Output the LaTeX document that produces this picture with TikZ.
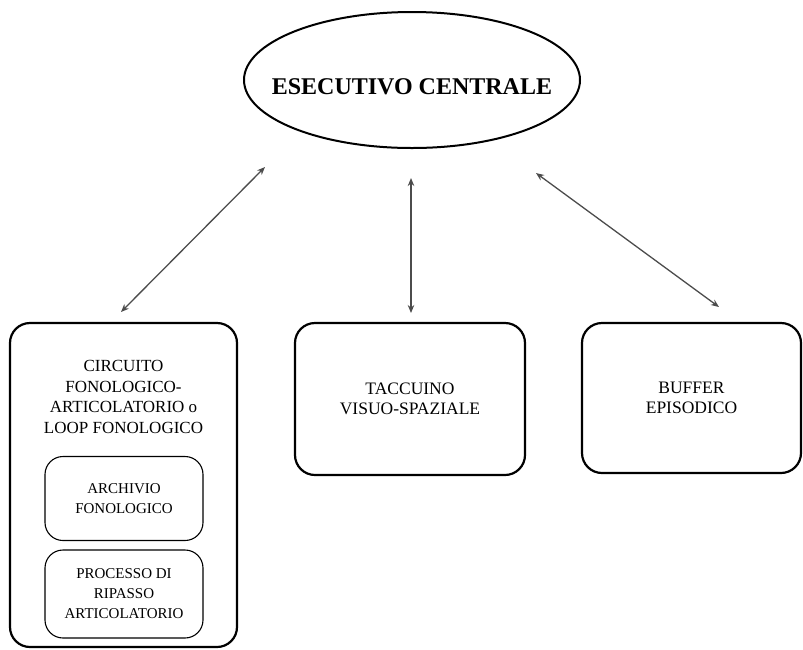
\documentclass[tikz,border=0pt]{standalone}
\usepackage{fontspec}
\setmainfont{Liberation Serif}
\usetikzlibrary{shapes.geometric,arrows.meta,positioning}

\begin{document}
\begin{tikzpicture}[x=1pt,y=-1pt,
          comp/.style={draw=black,line width=2.2pt,rounded corners=20pt,
                       align=center,font=\fontsize{17.5}{20.5}\selectfont},
          sub/.style={draw=black,line width=1.1pt,rounded corners=18pt,
                      minimum width=158pt,align=center,
                      font=\fontsize{15}{20}\selectfont},
          link/.style={{Stealth[length=8pt,width=6.5pt]}-{Stealth[length=8pt,width=6.5pt]},
                       line width=1.3pt,black!70}]
        \useasboundingbox (0,0) rectangle (803,649);
        \node[ellipse,draw,line width=2pt,inner sep=0pt,
              minimum width=336pt,minimum height=136pt] (exec) at (412,80) {};
        \node[font=\fontsize{24}{28}\selectfont\bfseries] (exectxt) at (412,87)
          {ESECUTIVO CENTRALE};
        \node[comp,minimum width=227pt,minimum height=324pt] (loop) at (123.5,485) {};
        \node[align=center,font=\fontsize{17}{20.5}\selectfont] (looptxt) at (123.5,397)
          {CIRCUITO\\FONOLOGICO-\\ARTICOLATORIO o\\LOOP FONOLOGICO};
        \node[sub,minimum height=84pt] (arch) at (124,498.5) {ARCHIVIO\\FONOLOGICO};
        \node[sub,minimum height=88pt] (ripasso) at (124,594)
          {PROCESSO DI\\RIPASSO\\ARTICOLATORIO};
        \node[comp,minimum width=230pt,minimum height=152pt] (tacc) at (410,399)
          {TACCUINO\\VISUO-SPAZIALE};
        \node[comp,minimum width=219pt,minimum height=150pt] (buffer) at (691.5,398)
          {BUFFER\\EPISODICO};
        \coordinate (execL) at (265,167);
        \coordinate (execM) at (411,178);
        \coordinate (execR) at (536,173);
        \coordinate (loopIn) at (121,312);
        \coordinate (taccIn) at (411,313);
        \coordinate (bufferIn) at (719,307);
        \draw[link] (execL) -- (loopIn);
        \draw[link] (execM) -- (taccIn);
        \draw[link] (execR) -- (bufferIn);
\end{tikzpicture}
\end{document}
